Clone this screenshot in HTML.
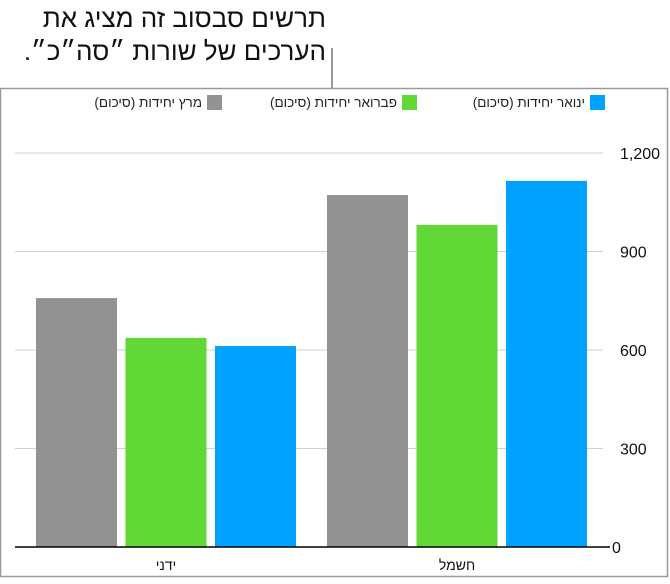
<!DOCTYPE html>
<html><head><meta charset="utf-8"><style>
body{margin:0;background:#fff;width:670px;height:579px;overflow:hidden;font-family:"Liberation Sans","Noto Sans CJK SC",sans-serif}
</style></head><body>
<svg width="670" height="579" xmlns="http://www.w3.org/2000/svg" font-family="Liberation Sans, DejaVu Sans, sans-serif">
<text x="326" y="27" font-size="26" text-anchor="start" direction="rtl" fill="#111">תרשים סבסוב זה מציג את</text>
<text x="326" y="60" font-size="26" text-anchor="start" direction="rtl" fill="#111">הערכים של שורות ״סה״כ״.</text>
<line x1="332" y1="48" x2="332" y2="88" stroke="#777" stroke-width="1.5"/>
<rect x="0.5" y="88.5" width="667" height="488" fill="none" stroke="#999" stroke-width="1.5"/>
<g id="legend"></g>
<g id="grid"></g>
<g id="bars"></g>
<g id="labels"></g>
</svg>
<script>
const categories=["חשמל","ידני"];
const seriesNames=["ינואר יחידות (סיכום)","פברואר יחידות (סיכום)","מרץ יחידות (סיכום)"];
const janValues=[1115,612];
const febValues=[981,637];
const marValues=[1072,758];
const yTicks=[0,300,600,900,1200];
const yTickLabels=["0","300","600","900","1,200"];
const colors=["#00a2ff","#61d836","#929292"];
const NS="http://www.w3.org/2000/svg";
function mk(t,a,p){const e=document.createElementNS(NS,t);for(const k in a)e.setAttribute(k,a[k]);p.appendChild(e);return e;}
const y0=547,yTop=153,maxV=1200;
function yScale(v){return y0-(v/maxV)*(y0-yTop);}
const groupRight=[587,296],barW=81,barGap=8.5;
function xBar(ci,si){return groupRight[ci]-barW-si*(barW+barGap);}
const grid=document.getElementById('grid');
yTicks.forEach((t,i)=>{
  const y=yScale(t);
  if(t!==0){const l=mk('line',{x1:15,x2:603,y1:y,y2:y,stroke:'#d0d0d0','stroke-width':1},grid);
  
  }
  const tx=mk('text',{x:t===0?612:620,y:y+6,'font-size':16,fill:'#111'},grid);
  tx.textContent=yTickLabels[i];
  
  
});
const series=[janValues,febValues,marValues];
const bars=document.getElementById('bars');
series.forEach((vals,si)=>{vals.forEach((v,ci)=>{
  const y=yScale(v);
  const r=mk('rect',{x:xBar(ci,si),y:y,width:barW,height:y0-y,fill:colors[si]},bars);
  
  
});});
const base=mk('line',{x1:15,x2:610,y1:y0,y2:y0,stroke:'#000','stroke-width':1.5},bars);


const labels=document.getElementById('labels');
categories.forEach((c,ci)=>{
  const cx=groupRight[ci]-(3*barW+2*barGap)/2;
  const t=mk('text',{x:cx,y:570,'font-size':14,'text-anchor':'middle',fill:'#111'},labels);
  t.textContent=c;
  
  
});
const legend=document.getElementById('legend');
const swX=[590,402,207];
seriesNames.forEach((n,si)=>{
  const s=mk('rect',{x:swX[si],y:95,width:15,height:15,fill:colors[si]},legend);
  
  
  const t=mk('text',{x:swX[si]-5,y:107,'font-size':13.5,'text-anchor':'end',fill:'#222'},legend);
  t.textContent=n;
  
  
});
</script>
</body></html>
